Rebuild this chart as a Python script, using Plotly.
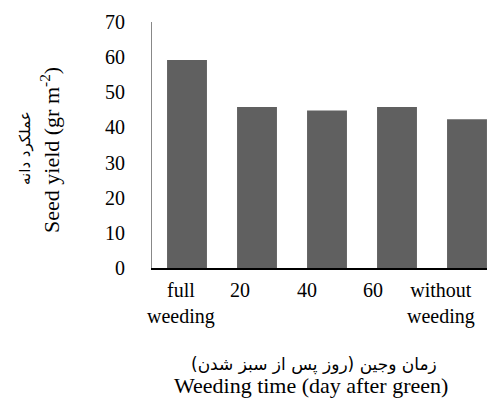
import plotly.graph_objects as go

categories = ["full weeding", "20", "40", "60", "without weeding"]
tick_labels = ["full<br>weeding", "20", "40", "60", "without<br>weeding"]
label_shift = [-6, -17, -20, -24, -26]
seed_yield = [59.2, 45.8, 44.8, 45.8, 42.3]

fig = go.Figure()
fig.add_trace(go.Bar(x=categories, y=seed_yield, marker=dict(color="#606060", line=dict(width=0)),
                     width=0.57))

serif = "Liberation Serif"
# page body has an 8px default margin, so the figure is sized/offset to compensate
fig.update_layout(
    width=487, height=393,
    margin=dict(l=144, r=0, t=14, b=133),
    plot_bgcolor="white", paper_bgcolor="white",
    showlegend=False,
    font=dict(family=serif, size=20, color="black"),
)
fig.update_xaxes(type="category", range=[-0.5, 4.4], showticklabels=False, showline=True,
                 linecolor="black", linewidth=2, ticks="", showgrid=False, zeroline=False)
fig.update_yaxes(range=[0, 70], dtick=10, showline=True, linecolor="#888888", linewidth=1,
                 ticks="outside", ticklen=0, ticklabelstandoff=22, showgrid=False, zeroline=False,
                 tickfont=dict(family=serif, size=20))

for i, (lab, s) in enumerate(zip(tick_labels, label_shift)):
    fig.add_annotation(x=i, y=0, xref="x", yref="y", text=lab, showarrow=False,
                       xanchor="center", yanchor="top", yshift=-9, xshift=s,
                       font=dict(family=serif, size=20), align="center")

fig.add_annotation(x=0.5, y=0, xref="paper", yref="paper", text="زمان وجین (روز پس از سبز شدن)",
                   showarrow=False, xanchor="center", yanchor="middle", yshift=-96, xshift=-10,
                   font=dict(family="DejaVu Sans", size=17))
fig.add_annotation(x=0.5, y=0, xref="paper", yref="paper", text="Weeding time (day after green)",
                   showarrow=False, xanchor="center", yanchor="middle", yshift=-117, xshift=-13,
                   font=dict(family=serif, size=22))
fig.add_annotation(x=0, y=0.5, xref="paper", yref="paper", text="Seed yield (gr m<sup>-2</sup>)",
                   showarrow=False, textangle=-90, xanchor="center", yanchor="middle",
                   xshift=-102, yshift=-5, font=dict(family=serif, size=22))
fig.add_annotation(x=0, y=0.5, xref="paper", yref="paper", text="عملکرد دانه",
                   showarrow=False, textangle=-90, xanchor="center", yanchor="middle",
                   xshift=-127, yshift=-3, font=dict(family="DejaVu Sans", size=15))

fig.write_html("out.html")
